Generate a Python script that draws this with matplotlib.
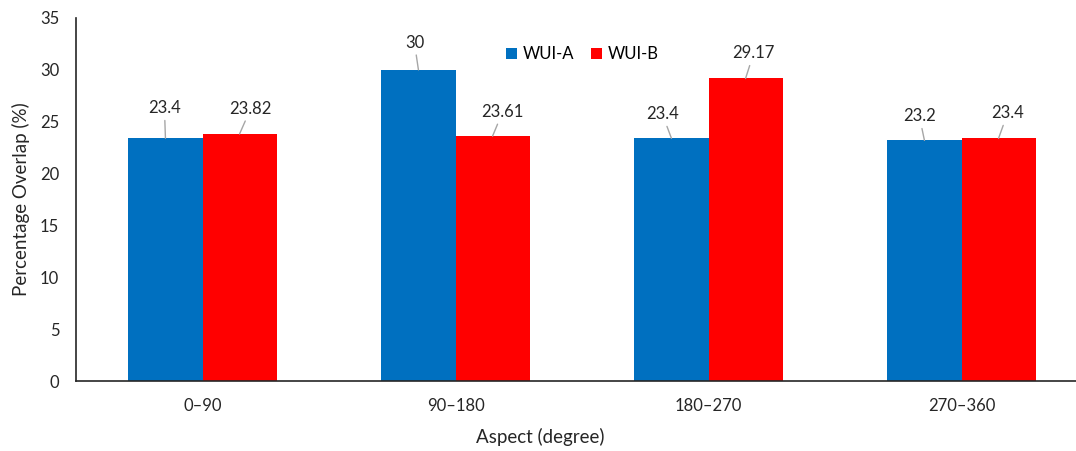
import numpy as np
import matplotlib.pyplot as plt

# overlap percentage per aspect class
aspects = ['0\u201390', '90\u2013180', '180\u2013270', '270\u2013360']
wui_a = [23.4, 30, 23.4, 23.2]
wui_b = [23.82, 23.61, 29.17, 23.4]

# label offsets (pixels) from each bar top, for the leader lines
offs_a = [(-1, 30), (-4, 27), (-9, 24), (-5, 24)]
offs_b = [(11, 25), (10, 24), (8, 25), (9, 25)]

plt.rcParams['font.family'] = ['Lato', 'DejaVu Sans']

fig = plt.figure(figsize=(10.76, 4.51), dpi=100)
ax = fig.add_axes([76/1076, 70/451, 1012/1076, 363/451])

x = np.arange(len(aspects))
w = 0.293
ba = ax.bar(x - w/2, wui_a, w, color='#0070C0', label='WUI-A')
bb = ax.bar(x + w/2, wui_b, w, color='#FF0000', label='WUI-B')

def label_bars(bars, vals, offs):
    for b, v, (dx, dy) in zip(bars, vals, offs):
        ax.annotate('%g' % v, xy=(b.get_x() + b.get_width()/2, v),
                    xytext=(dx, dy), textcoords='offset pixels',
                    ha='center', va='center', fontsize=12, color='#262626',
                    arrowprops=dict(arrowstyle='-', color='#A6A6A6', lw=1,
                                    shrinkA=1, shrinkB=0))

label_bars(ba, wui_a, offs_a)
label_bars(bb, wui_b, offs_b)

ax.set_xlim(-0.5, 3.5)
ax.set_ylim(0, 35)
ax.set_yticks(range(0, 36, 5))
ax.set_xticks(x)
ax.set_xticklabels(aspects)
ax.tick_params(axis='both', length=0, labelsize=12, labelcolor='#262626')
ax.tick_params(axis='y', pad=12)
ax.tick_params(axis='x', pad=12)
for s in ['top', 'right']:
    ax.spines[s].set_visible(False)
for s in ['left', 'bottom']:
    ax.spines[s].set_color('#262626')
    ax.spines[s].set_linewidth(1.2)

ax.set_ylabel('Percentage Overlap (%)', fontsize=13.5, color='#262626', labelpad=7)
ax.set_xlabel('Aspect (degree)', fontsize=13.5, color='#262626')
ax.xaxis.set_label_coords((540 - 76)/1012, -0.155)
ax.xaxis.label.set_va('center')

ax.legend(loc='center', bbox_to_anchor=(0.5, 0.9), ncol=2, frameon=False,
          fontsize=12, handlelength=0.7, handleheight=0.7, handletextpad=0.3,
          columnspacing=1.0)

fig.savefig('out.png', dpi=100)
